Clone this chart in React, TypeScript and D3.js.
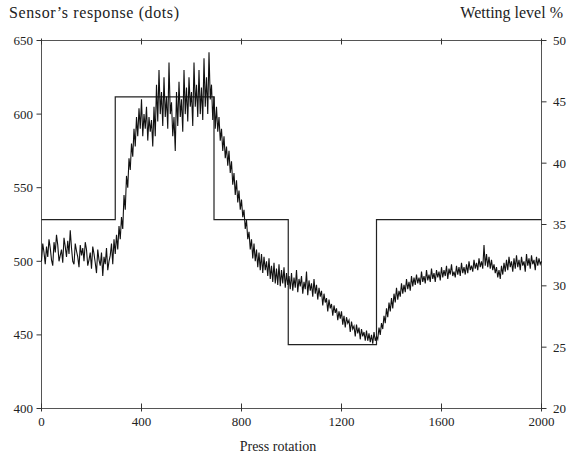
import React from "react";
import * as d3 from "d3";

// Press rotation sampled every 5 units (0..2000)
const rotationStep = 5;
const sensorResponse: number[] = [
  500, 512, 506, 498, 510, 503, 515, 509, 501, 497, 513, 506, 518, 511, 500, 504, 508, 499, 516, 510,
  503, 514, 505, 521, 509, 500, 498, 512, 507, 503, 496, 511, 504, 509, 500, 513, 508, 497, 501, 506,
  495, 510, 505, 499, 492, 508, 501, 497, 506, 490, 503, 498, 509, 494, 500, 504, 512, 498, 515, 505,
  518, 508, 524, 515, 530, 522, 545, 535, 558, 550, 570, 562, 580, 571, 590, 578, 598, 585, 604, 590,
  610, 585, 600, 590, 605, 582, 598, 588, 596, 578, 605, 585, 620, 595, 630, 600, 615, 592, 625, 598,
  612, 590, 635, 600, 608, 585, 598, 575, 615, 592, 622, 598, 610, 588, 630, 600, 618, 595, 625, 605,
  615, 592, 635, 605, 620, 598, 630, 600, 618, 596, 638, 605, 625, 600, 642, 610, 620, 596, 612, 590,
  605, 588, 598, 582, 590, 575, 585, 570, 578, 565, 575, 560, 568, 552, 560, 545, 555, 540, 548, 535,
  542, 530, 535, 522, 528, 515, 520, 508, 515, 502, 512, 500, 508, 496, 506, 494, 505, 492, 503, 494,
  500, 490, 502, 488, 497, 486, 499, 485, 495, 484, 498, 483, 494, 485, 496, 482, 492, 484, 490, 481,
  492, 480, 489, 482, 494, 479, 488, 483, 490, 478, 486, 481, 493, 477, 487, 480, 485, 476, 488, 478,
  484, 474, 482, 476, 480, 470, 478, 472, 475, 466, 474, 468, 471, 463, 470, 465, 468, 460, 466, 461,
  466, 457, 463, 455, 462, 458, 460, 452, 459, 454, 456, 449, 457, 451, 455, 447, 454, 449, 452, 446,
  453, 446, 451, 445, 450, 444, 452, 446, 449, 447, 455, 450, 458, 454, 463, 458, 468, 462, 472, 466,
  475, 468, 478, 472, 482, 474, 480, 476, 485, 478, 484, 479, 488, 481, 486, 480, 490, 483, 489, 484,
  491, 485, 489, 484, 493, 486, 490, 485, 494, 487, 491, 486, 495, 488, 492, 486, 494, 489, 493, 487,
  496, 489, 494, 490, 497, 488, 495, 491, 498, 490, 493, 489, 497, 491, 496, 490, 499, 492, 496, 491,
  498, 492, 500, 494, 497, 493, 501, 495, 499, 494, 502, 496, 500, 495, 511, 497, 505, 496, 503, 495,
  501, 494, 498, 492, 496, 489, 494, 488, 497, 491, 499, 493, 501, 494, 503, 496, 500, 493, 502, 495,
  504, 496, 501, 494, 503, 497, 500, 493, 505, 497, 502, 495, 504, 498, 501, 494, 503, 497, 502, 498,
  500,
];

// Wetting level steps (start rotation, level %)
const wettingStart: number[] = [0, 295, 690, 987, 1340, 2000];
const wettingLevel: number[] = [35.4, 45.4, 35.4, 25.2, 35.4, 35.4];

const xTicks: number[] = [0, 400, 800, 1200, 1600, 2000];
const yLeftTicks: number[] = [400, 450, 500, 550, 600, 650];
const yRightTicks: number[] = [20, 25, 30, 35, 40, 45, 50];

const W = 574;
const H = 459;
const left = 41.5;
const right = 541.5;
const top = 40.5;
const bottom = 408.5;

const font = "'Liberation Serif', 'Times New Roman', serif";

export default function App() {
  const x = d3.scaleLinear().domain([0, 2000]).range([left, right]);
  const yL = d3.scaleLinear().domain([400, 650]).range([bottom, top]);
  const yR = d3.scaleLinear().domain([20, 50]).range([bottom, top]);

  const sensorLine = d3
    .line<number>()
    .x((_, i) => x(i * rotationStep))
    .y((d) => yL(d))(sensorResponse) as string;

  const wetPts: [number, number][] = wettingStart.map((s, i) => [s, wettingLevel[i]]);
  const wetLine = d3
    .line<[number, number]>()
    .x((d) => x(d[0]))
    .y((d) => yR(d[1]))
    .curve(d3.curveStepAfter)(wetPts) as string;

  const spine = "#555";

  return (
    <svg
      width={W}
      height={H}
      style={{ position: "absolute", left: 0, top: 0, background: "#fff" }}
    >
      <rect x={left} y={top} width={right - left} height={bottom - top} fill="none" stroke={spine} strokeWidth={1} />

      {yLeftTicks.map((t) => (
        <g key={"l" + t}>
          <line x1={left - 5} x2={left} y1={yL(t)} y2={yL(t)} stroke="#333" />
          <text x={33} y={yL(t)} dy="0.35em" textAnchor="end" fontFamily={font} fontSize={13} fill="#222">
            {t}
          </text>
        </g>
      ))}

      {yRightTicks.map((t) => (
        <g key={"r" + t}>
          <line x1={right} x2={right + 5} y1={yR(t)} y2={yR(t)} stroke="#333" />
          <text x={553} y={yR(t)} dy="0.35em" textAnchor="start" fontFamily={font} fontSize={13} fill="#222">
            {t}
          </text>
        </g>
      ))}

      {xTicks.map((t) => (
        <g key={"x" + t}>
          <line x1={x(t)} x2={x(t)} y1={bottom - 5} y2={bottom + 3} stroke="#333" />
          <line x1={x(t)} x2={x(t)} y1={top - 2} y2={top + 4} stroke="#333" />
          <text x={x(t)} y={426} textAnchor="middle" fontFamily={font} fontSize={13} fill="#222">
            {t}
          </text>
        </g>
      ))}

      <path d={wetLine} fill="none" stroke="#222" strokeWidth={1.2} />

      <path d={sensorLine} fill="none" stroke="#111" strokeWidth={1.1} strokeLinejoin="miter" />

      <text x={9} y={18} fontFamily={font} fontSize={16} fill="#222" textLength={170} lengthAdjust="spacing">
        Sensor’s response (dots)
      </text>
      <text x={563} y={18} textAnchor="end" fontFamily={font} fontSize={16} fill="#222">
        Wetting level %
      </text>
      <text x={278} y={451} textAnchor="middle" fontFamily={font} fontSize={14} fill="#222">
        Press rotation
      </text>
    </svg>
  );
}
